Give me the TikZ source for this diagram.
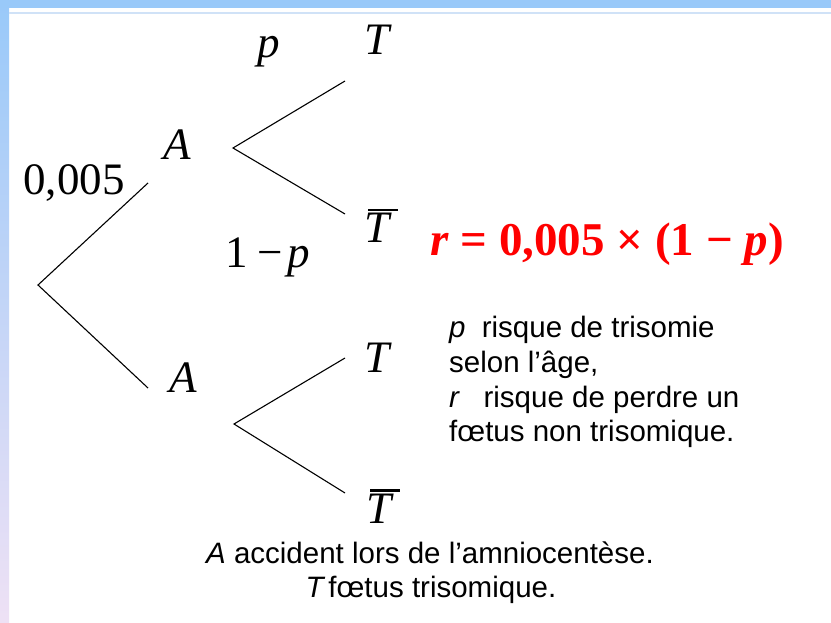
\documentclass[tikz,border=0pt]{standalone}
\usepackage{fontspec}
\setmainfont{Liberation Serif}
\setsansfont{Liberation Sans}
\usepackage{xcolor}
\usepackage{tikz}
\usetikzlibrary{positioning}

\definecolor{bandtop}{HTML}{99C9F9}
\definecolor{bandbot}{HTML}{EEE1F5}
\definecolor{bandline}{HTML}{D0E2F7}
\definecolor{formred}{HTML}{FF0000}

\newcommand{\lblfont}{\fontsize{45}{54}\selectfont}
\newcommand{\notefont}{\fontsize{29.5}{34}\selectfont\sffamily}
\newcommand{\barT}{\leavevmode\rlap{\hspace{0.09em}\rule[0.7em]{0.67em}{0.045em}}\textit{T}}

\begin{document}
\begin{tikzpicture}[
  x=1pt, y=-1pt,
  lbl/.style={font=\lblfont, anchor=base, inner sep=0pt},
  note/.style={font=\notefont, anchor=base west, inner sep=0pt},
  legend/.style={font=\notefont, anchor=base, inner sep=0pt},
  branch/.style={line width=1.1pt, black}
]
\useasboundingbox (0,0) rectangle (831,623);
% frame of the slide
\fill[white] (0,0) rectangle (831,623);
\shade[top color=bandtop, bottom color=bandbot] (0,0) rectangle (9,623);
\fill[bandtop] (0,0) rectangle (831,8);
\draw[bandline, line width=1.5pt] (9,13) -- (831,13);

% tree points
\coordinate (root) at (38,285);
\coordinate (endA) at (148,183);
\coordinate (endB) at (148,388);
\coordinate (forkA) at (233,148);
\coordinate (endAT) at (345,81);
\coordinate (endATb) at (345,214);
\coordinate (forkB) at (234,424);
\coordinate (endBT) at (345,358);
\coordinate (endBTb) at (345,493);

% labels
\node[lbl] (prob) at (74,195) {0,005};
\node[lbl] (evA) at (177,160) {\textit{A}};
\node[lbl] (evB) at (183,392) {\textit{A}};
\node[lbl] (probp) at (269,58) {\textit{p}};
\node[lbl] (probq) at (268,267) {1\hspace{0.2em}−\hspace{0.12em}\textit{p}};
\node[lbl] (evAT) at (378,55) {\textit{T}};
\node[lbl] (evATb) at (378,243) {\barT};
\node[lbl] (evBT) at (378,372) {\textit{T}};
\node[lbl] (evBTb) at (380,523) {\barT};
\node[lbl, text=formred, font=\fontsize{47}{56}\selectfont] (risk) at (607,255)
  {\bfseries\textit{r} = 0,005 × (1 − \textit{p})};

% notes
\node[note] (n1) at (449,337) {\textit{p}\hspace{0.55em}risque de trisomie};
\node[note] (n2) at (449,372) {selon l’âge,};
\node[note] (n3) at (449,407) {\textit{r}\hspace{0.8em}risque de perdre un};
\node[note] (n4) at (449,441) {fœtus non trisomique.};
\node[legend] (l1) at (430,563) {\textit{A} accident lors de l’amniocentèse.};
\node[legend] (l2) at (431,597) {\textit{T}\hspace{0.1em}fœtus trisomique.};

% branches
\draw[branch] (endA) -- (root) -- (endB);
\draw[branch] (endAT) -- (forkA) -- (endATb);
\draw[branch] (endBT) -- (forkB) -- (endBTb);
\end{tikzpicture}
\end{document}
